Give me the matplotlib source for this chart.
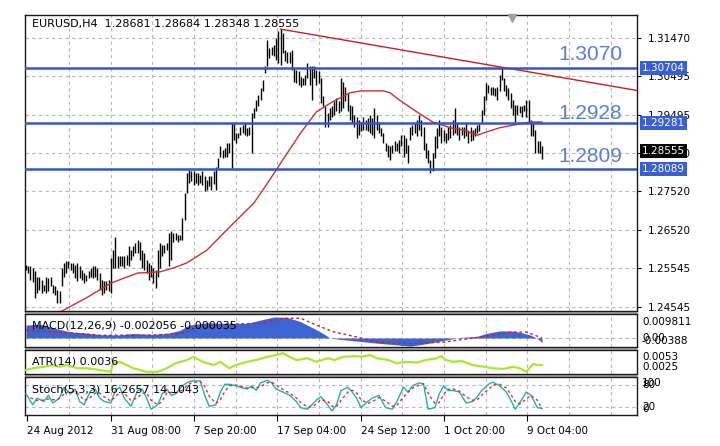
import matplotlib
matplotlib.use("Agg")
import matplotlib.pyplot as plt
from matplotlib.patches import Rectangle

plt.rcParams['font.family'] = ['DejaVu Sans']

# ---------------- data ----------------
symbol_info = "EURUSD,H4  1.28681 1.28684 1.28348 1.28555"
macd_info = "MACD(12,26,9) -0.002056 -0.000035"
atr_info = "ATR(14) 0.0036"
stoch_info = "Stoch(5,3,3) 16.2657 14.1043"

bar_high = [
    1.2563, 1.2559, 1.2559, 1.2555, 1.2546, 1.2533, 1.2533, 1.2525, 1.2512, 1.2533,
    1.2529, 1.2533, 1.2512, 1.2508, 1.2499, 1.2495, 1.2555, 1.2568, 1.2572, 1.2572,
    1.2568, 1.2568, 1.2563, 1.2568, 1.2560, 1.2550, 1.2542, 1.2538, 1.2546, 1.2555,
    1.2559, 1.2559, 1.2555, 1.2542, 1.2525, 1.2521, 1.2521, 1.2525, 1.2581, 1.2602,
    1.2636, 1.2585, 1.2585, 1.2585, 1.2585, 1.2589, 1.2611, 1.2602, 1.2611, 1.2619,
    1.2628, 1.2623, 1.2602, 1.2593, 1.2576, 1.2568, 1.2563, 1.2555, 1.2550, 1.2602,
    1.2619, 1.2615, 1.2615, 1.2619, 1.2645, 1.2649, 1.2645, 1.2645, 1.2641, 1.2641,
    1.2684, 1.2748, 1.2799, 1.2808, 1.2804, 1.2804, 1.2799, 1.2799, 1.2795, 1.2804,
    1.2791, 1.2782, 1.2791, 1.2791, 1.2805, 1.2816, 1.2838, 1.2868, 1.2859, 1.2864,
    1.2877, 1.2877, 1.2928, 1.2928, 1.2902, 1.2902, 1.2919, 1.2924, 1.2928, 1.2915,
    1.2919, 1.2954, 1.2967, 1.2988, 1.3001, 1.3018, 1.3040, 1.3074, 1.3143,
    1.3121, 1.3125, 1.3130, 1.3147, 1.3164, 1.3170, 1.3160, 1.3117, 1.3112, 1.3112,
    1.3117, 1.3070, 1.3065, 1.3061, 1.3048, 1.3044, 1.3052, 1.3082, 1.3074, 1.3074,
    1.3074, 1.3065, 1.3061, 1.3044, 1.2997, 1.2971, 1.2954, 1.2967, 1.2971, 1.2984,
    1.2992, 1.2984, 1.3044, 1.3035, 1.3022, 1.3005, 1.2975, 1.2971, 1.2949, 1.2945,
    1.2937, 1.2932, 1.2945, 1.2937, 1.2941, 1.2949, 1.2941, 1.2967, 1.2949, 1.2932,
    1.2915, 1.2902, 1.2877, 1.2872, 1.2868, 1.2872, 1.2881, 1.2877, 1.2885, 1.2898,
    1.2898, 1.2889, 1.2872, 1.2919, 1.2924, 1.2928, 1.2937, 1.2949, 1.2937, 1.2919,
    1.2877, 1.2859, 1.2834, 1.2851, 1.2894, 1.2915, 1.2937, 1.2919, 1.2911, 1.2902,
    1.2919, 1.2924, 1.2937, 1.2967, 1.2928, 1.2919, 1.2919, 1.2919, 1.2928, 1.2911,
    1.2919, 1.2911, 1.2915, 1.2924, 1.2928, 1.2962, 1.2997, 1.3031, 1.3027, 1.3022,
    1.3022, 1.3018, 1.3022, 1.3052, 1.3072, 1.3044, 1.3027, 1.3018, 1.3005, 1.2988,
    1.2975, 1.2975, 1.2971, 1.2971, 1.2975, 1.2988, 1.2988, 1.2937, 1.2932, 1.2911,
    1.2881, 1.2881, 1.28684,
]
bar_low = [
    1.2550, 1.2542, 1.2525, 1.2520, 1.2478, 1.2490, 1.2499, 1.2490, 1.2495, 1.2490,
    1.2495, 1.2508, 1.2490, 1.2486, 1.2465, 1.2465, 1.2508, 1.2533, 1.2542, 1.2555,
    1.2550, 1.2542, 1.2529, 1.2521, 1.2530, 1.2525, 1.2516, 1.2521, 1.2529, 1.2533,
    1.2529, 1.2533, 1.2525, 1.2499, 1.2486, 1.2490, 1.2499, 1.2495, 1.2490, 1.2555,
    1.2555, 1.2555, 1.2559, 1.2559, 1.2555, 1.2563, 1.2559, 1.2576, 1.2585, 1.2593,
    1.2593, 1.2576, 1.2555, 1.2550, 1.2542, 1.2525, 1.2533, 1.2516, 1.2503, 1.2533,
    1.2555, 1.2585, 1.2593, 1.2602, 1.2559, 1.2576, 1.2623, 1.2628, 1.2623, 1.2628,
    1.2628, 1.2679, 1.2748, 1.2774, 1.2778, 1.2769, 1.2774, 1.2769, 1.2774, 1.2769,
    1.2752, 1.2756, 1.2765, 1.2756, 1.2770, 1.2756, 1.2812, 1.2842, 1.2838, 1.2842,
    1.2842, 1.2851, 1.2812, 1.2885, 1.2877, 1.2889, 1.2898, 1.2902, 1.2898, 1.2894,
    1.2898, 1.2851, 1.2941, 1.2958, 1.2971, 1.2988, 1.3010, 1.3057, 1.3074,
    1.3095, 1.3104, 1.3100, 1.3091, 1.3082, 1.3078, 1.3108, 1.3087, 1.3082, 1.3082,
    1.3065, 1.3035, 1.3031, 1.3027, 1.3022, 1.3027, 1.3027, 1.3044, 1.3027, 1.2988,
    1.3044, 1.3027, 1.3031, 1.2979, 1.2971, 1.2919, 1.2919, 1.2937, 1.2945, 1.2949,
    1.2958, 1.2954, 1.2958, 1.2967, 1.2984, 1.2958, 1.2937, 1.2928, 1.2919, 1.2889,
    1.2898, 1.2907, 1.2911, 1.2911, 1.2907, 1.2902, 1.2898, 1.2889, 1.2911, 1.2902,
    1.2894, 1.2877, 1.2855, 1.2842, 1.2834, 1.2851, 1.2855, 1.2855, 1.2851, 1.2868,
    1.2842, 1.2851, 1.2825, 1.2885, 1.2898, 1.2902, 1.2894, 1.2911, 1.2894, 1.2859,
    1.2838, 1.2825, 1.2799, 1.2804, 1.2838, 1.2864, 1.2894, 1.2877, 1.2881, 1.2877,
    1.2885, 1.2889, 1.2898, 1.2902, 1.2898, 1.2885, 1.2898, 1.2889, 1.2894, 1.2877,
    1.2881, 1.2885, 1.2894, 1.2902, 1.2907, 1.2932, 1.2949, 1.2988, 1.3005, 1.3001,
    1.3001, 1.2997, 1.2988, 1.3010, 1.3040, 1.3010, 1.2997, 1.2988, 1.2967, 1.2949,
    1.2932, 1.2949, 1.2954, 1.2945, 1.2958, 1.2945, 1.2928, 1.2894, 1.2894, 1.2851,
    1.2851, 1.2851, 1.28348,
]
last_close = 1.28555

ma_idx = [0, 17, 27, 38, 50, 60, 66, 72, 81, 93, 102, 109, 114, 123, 130, 137, 145,
          150, 160, 163, 167, 175, 182, 190, 196, 202, 205, 212, 221, 226, 231]
ma_val = [1.2400, 1.2447, 1.2478, 1.2516, 1.2542, 1.2545, 1.2555, 1.2568, 1.2601,
          1.2671, 1.2722, 1.2781, 1.2825, 1.2903, 1.2957, 1.2982, 1.3006, 1.3011,
          1.3011, 1.3006, 1.2988, 1.2957, 1.2931, 1.2916, 1.2910, 1.2897, 1.2903,
          1.2916, 1.2926, 1.2931, 1.2931]

trend_idx = [114, 213]
trend_val = [1.3170, 1.3072]

levels = [1.30704, 1.29281, 1.28089]
level_labels = ["1.3070", "1.2928", "1.2809"]

price_ticks = [1.31470, 1.30495, 1.29495, 1.28520, 1.27520, 1.26520, 1.25545, 1.24545]
price_tick_labels = ["1.31470", "1.30495", "1.29495", "1.28520",
                     "1.27520", "1.26520", "1.25545", "1.24545"]

date_labels = ["24 Aug 2012", "31 Aug 08:00", "7 Sep 20:00", "17 Sep 04:00",
               "24 Sep 12:00", "1 Oct 20:00", "9 Oct 04:00"]

macd_idx = [0, 6, 11, 15, 20, 26, 33, 41, 48, 56, 63, 69, 73, 81, 90, 99, 105, 111,
            117, 123, 129, 133, 136, 142, 148, 157, 164, 172, 179, 187, 194, 202,
            206, 212, 217, 221, 226, 229, 231]
macd_val = [0.0060, 0.0065, 0.0052, 0.0040, 0.0028, 0.0024, 0.0016, 0.0014, 0.0021,
            0.0017, 0.0021, 0.0036, 0.0060, 0.0071, 0.0068, 0.0068, 0.0084, 0.0098,
            0.0096, 0.0076, 0.0044, 0.0021, 0.0000, -0.0008, -0.0014, -0.0024,
            -0.0030, -0.0038, -0.0027, -0.0011, 0.0002, 0.0008, 0.0021, 0.0033,
            0.0033, 0.0027, 0.0013, -0.0003, -0.0021]
macd_sig_idx = [0, 11, 20, 33, 56, 69, 76, 90, 105, 115, 123, 130, 138, 148, 157,
                172, 187, 202, 217, 224, 231]
macd_sig_val = [0.0036, 0.0028, 0.0024, 0.0013, 0.0013, 0.0021, 0.0044, 0.0065,
                0.0068, 0.0092, 0.0092, 0.0060, 0.0028, 0.0005, -0.0019, -0.0027,
                -0.0019, 0.0002, 0.0028, 0.0028, 0.0000]
macd_max, macd_min = 0.009811, -0.00388

atr_idx = [0, 3, 8, 12, 15, 18, 23, 27, 33, 38, 39, 42, 48, 54, 59, 63, 67, 72, 75,
           79, 84, 87, 91, 94, 99, 103, 108, 112, 115, 118, 121, 126, 130, 135, 138,
           142, 147, 150, 154, 157, 162, 166, 170, 175, 179, 184, 186, 188, 191, 195,
           200, 205, 209, 214, 218, 221, 224, 227, 229, 231]
atr_val = [0.00285, 0.0031, 0.0033, 0.00355, 0.0033, 0.00355, 0.0031, 0.0031,
           0.00285, 0.0026, 0.0038, 0.0040, 0.0031, 0.0026, 0.0026, 0.0031, 0.0038,
           0.00425, 0.0047, 0.0040, 0.00355, 0.0040, 0.0031, 0.00355, 0.0040,
           0.00425, 0.0047, 0.00495, 0.0052, 0.0047, 0.00425, 0.0045, 0.0040,
           0.0045, 0.00425, 0.0047, 0.0048, 0.0047, 0.00495, 0.0045, 0.00425,
           0.0038, 0.0040, 0.0039, 0.00425, 0.0045, 0.0048, 0.00425, 0.0040,
           0.0041, 0.00355, 0.0033, 0.0031, 0.0030, 0.0033, 0.0031, 0.0026,
           0.0037, 0.00355, 0.00355]
atr_max, atr_min = 0.0053, 0.0025

stoch_idx = [0, 3, 5, 8, 10, 12, 15, 17, 20, 22, 24, 26, 29, 31, 33, 35, 38, 40, 42,
             44, 47, 50, 52, 54, 56, 59, 61, 63, 65, 67, 70, 72, 74, 78, 80, 82, 85,
             87, 89, 91, 94, 96, 99, 101, 103, 105, 108, 110, 112, 115, 118, 121, 123,
             126, 128, 130, 132, 135, 137, 139, 141, 144, 146, 148, 150, 153, 155,
             158, 161, 164, 166, 169, 171, 173, 176, 178, 180, 183, 185, 187, 189,
             191, 194, 197, 200, 202, 204, 207, 209, 212, 215, 217, 219, 221, 224,
             226, 229, 231]
stoch_main = [56, 26, 44, 35, 52, 31, 44, 74, 56, 69, 35, 26, 65, 69, 44, 35, 31, 65,
              74, 44, 22, 65, 69, 44, 14, 26, 56, 69, 52, 56, 78, 86, 91, 91, 52, 22,
              26, 61, 82, 82, 78, 74, 69, 78, 65, 86, 93, 86, 69, 61, 52, 35, 18, 14,
              26, 39, 48, 26, 9, 26, 65, 74, 61, 44, 18, 35, 44, 52, 18, 14, 35, 74,
              61, 78, 86, 82, 14, 18, 56, 78, 65, 65, 61, 31, 35, 48, 65, 82, 88, 78,
              61, 39, 14, 31, 61, 52, 18, 16.27]
stoch_sig_idx = [2, 5, 7, 10, 12, 14, 17, 19, 22, 24, 26, 28, 31, 33, 35, 38, 40, 42,
                 44, 47, 50, 52, 54, 56, 59, 61, 63, 65, 67, 70, 72, 74, 78, 80, 82,
                 85, 87, 89, 91, 94, 96, 99, 101, 103, 105, 108, 110, 112, 115, 118,
                 121, 123, 126, 128, 130, 132, 135, 137, 139, 141, 144, 146, 148, 150,
                 153, 155, 158, 161, 164, 166, 169, 171, 173, 176, 178, 180, 183, 185,
                 187, 189, 191, 194, 197, 200, 202, 204, 207, 209, 212, 215, 217, 219,
                 221, 224, 226, 229, 231]
stoch_sig = [45, 38, 38, 42, 40, 40, 55, 62, 62, 52, 38, 42, 58, 58, 48, 36, 48, 60,
             58, 38, 45, 58, 58, 38, 26, 36, 58, 60, 58, 66, 78, 86, 90, 76, 50, 30,
             40, 62, 78, 80, 76, 72, 73, 72, 76, 86, 88, 80, 68, 58, 45, 32, 20, 20,
             28, 40, 36, 22, 20, 38, 60, 66, 58, 40, 30, 34, 46, 36, 22, 24, 48, 60,
             72, 80, 84, 58, 30, 32, 55, 68, 70, 63, 48, 38, 40, 52, 68, 80, 82, 72,
             55, 35, 28, 42, 52, 38, 14.10]

# ---------------- layout (pixels) ----------------
W, H = 720, 446
LEFT, RIGHT = 25, 637
FIRST_BAR_PX = 26
BAR_PX = (542 - FIRST_BAR_PX) / (len(bar_high) - 1)
GRID0_PX, GRID_PX = 27.3, 41.67

fig = plt.figure(figsize=(W / 100, H / 100), dpi=100)
fig.patch.set_facecolor('white')


def px_axes(top, bottom):
    return fig.add_axes([LEFT / W, (H - bottom) / H, (RIGHT - LEFT) / W, (bottom - top) / H])


ax = px_axes(15, 311)
ax_macd = px_axes(314, 347)
ax_atr = px_axes(350, 374)
ax_st = px_axes(377, 415)
panels = [ax, ax_macd, ax_atr, ax_st]

# gaps between panels
for top, bot in [(311, 314), (347, 350), (374, 377)]:
    fig.add_artist(Rectangle((LEFT / W, (H - bot) / H), (RIGHT - LEFT) / W, (bot - top) / H,
                             transform=fig.transFigure, fc='#a8a8a8', ec='none', zorder=0))

xmin = (LEFT - FIRST_BAR_PX) / BAR_PX
xmax = (RIGHT - FIRST_BAR_PX) / BAR_PX
grid_pos = [(GRID0_PX - FIRST_BAR_PX + GRID_PX * k) / BAR_PX for k in range(15)]
date_pos = grid_pos[0:14:2]

grid_kw = dict(color='#b8b8b8', lw=0.8, ls=(0, (3, 3)), zorder=0)

for a in panels:
    a.set_xlim(xmin, xmax)
    a.set_facecolor('white')
    for s in a.spines.values():
        s.set_color('#1a1a1a')
        s.set_linewidth(1.0)
    a.tick_params(axis='both', which='both', length=0, labelbottom=False, labelleft=False)
    for g in grid_pos[1:]:
        a.axvline(g, **grid_kw)

# ---------------- main price panel ----------------
ax.set_ylim(1.24442, 1.32064)
for p in price_ticks:
    ax.axhline(p, **grid_kw)
ax.yaxis.tick_right()
ax.set_yticks(price_ticks)
ax.set_yticklabels(price_tick_labels)
ax.tick_params(axis='y', which='both', right=True, labelright=True, direction='out',
               length=3, width=0.8, pad=5, labelsize=7.5, colors='#000000')

xs = list(range(len(bar_high)))
ax.vlines(xs, bar_low, bar_high, color='black', lw=1.0, zorder=3)

ax.plot(ma_idx, ma_val, color='#c83232', lw=1.0, zorder=4)

slope = (trend_val[1] - trend_val[0]) / (trend_idx[1] - trend_idx[0])
ax.plot([trend_idx[0], xmax], [trend_val[0], trend_val[0] + slope * (xmax - trend_idx[0])],
        color='#c82020', lw=1.0, zorder=4)

for lv, lab, off in zip(levels, level_labels, [13, 10, 12.5]):
    ax.axhline(lv, color='#3556c4', lw=1.8, zorder=5)
    ax.annotate(lab, xy=(1, lv), xycoords=('axes fraction', 'data'), xytext=(-15, off),
                textcoords='offset pixels', ha='right', va='center', fontsize=15,
                family='Liberation Sans', color='#5b7dd6', zorder=6)
    ax.annotate(f"{lv:.5f}", xy=(1, lv), xycoords=('axes fraction', 'data'), xytext=(5, 0),
                textcoords='offset pixels', ha='left', va='center', fontsize=7.5,
                color='white', annotation_clip=False, zorder=10,
                bbox=dict(boxstyle='square,pad=0.18', fc='#3a5fd0', ec='none'))

ax.annotate(f"{last_close:.5f}", xy=(1, last_close), xycoords=('axes fraction', 'data'),
            xytext=(5, 0), textcoords='offset pixels', ha='left', va='center', fontsize=7.5,
            color='white', annotation_clip=False, zorder=10,
            bbox=dict(boxstyle='square,pad=0.18', fc='black', ec='none'))

ax.annotate(symbol_info, xy=(0, 1), xycoords='axes fraction', xytext=(7, -9),
            textcoords='offset pixels', ha='left', va='center', fontsize=8, zorder=10)

ax.plot([(512 - LEFT) / (RIGHT - LEFT)], [1 - 3 / 296], marker='v', ms=6, color='#a0a0a0',
        transform=ax.transAxes, clip_on=False, zorder=10)


def side_label(a, txt, val, va):
    a.annotate(txt, xy=(1, val), xycoords=('axes fraction', 'data'), xytext=(5, 0),
               textcoords='offset pixels', ha='left', va=va, fontsize=7.5,
               annotation_clip=False)


def panel_title(a, txt):
    a.annotate(txt, xy=(0, 1), xycoords='axes fraction', xytext=(7, -12),
               textcoords='offset pixels', ha='left', va='center', fontsize=8, zorder=10)


# ---------------- MACD ----------------
ax_macd.set_ylim(-0.0042, 0.0112)
ax_macd.axhline(0, **grid_kw)
ax_macd.fill_between(macd_idx, 0, macd_val, color='#3c64d2', lw=0, zorder=2)
ax_macd.plot(macd_sig_idx, macd_sig_val, color='#d42020', lw=1.0, ls=(0, (2, 2)), zorder=3)
panel_title(ax_macd, macd_info)
side_label(ax_macd, f"{macd_max:.6f}", macd_max, 'top')
side_label(ax_macd, "0.00", 0.0, 'center')
side_label(ax_macd, f"{macd_min:.5f}", macd_min, 'bottom')

# ---------------- ATR ----------------
ax_atr.set_ylim(0.00229, 0.00565)
ax_atr.plot(atr_idx, atr_val, color='#a8e832', lw=1.6, zorder=3)
panel_title(ax_atr, atr_info)
side_label(ax_atr, f"{atr_max:.4f}", atr_max, 'top')
side_label(ax_atr, f"{atr_min:.4f}", atr_min, 'bottom')

# ---------------- Stochastic ----------------
ax_st.set_ylim(-2, 102)
for lv in (80, 20):
    ax_st.axhline(lv, **grid_kw)
ax_st.plot(stoch_idx, stoch_main, color='#20b2aa', lw=1.0, zorder=3)
ax_st.plot(stoch_sig_idx, stoch_sig, color='#e03030', lw=1.0, ls=(0, (2, 2)), zorder=3)
panel_title(ax_st, stoch_info)
side_label(ax_st, "100", 100, 'top')
side_label(ax_st, "80", 80, 'center')
side_label(ax_st, "20", 20, 'center')
side_label(ax_st, "0", 0, 'bottom')

ax_st.set_xticks(date_pos)
ax_st.set_xticklabels(date_labels)
ax_st.tick_params(axis='x', which='both', bottom=True, labelbottom=True, direction='out',
                  length=4, width=0.8, pad=4, labelsize=7.5)
for lbl in ax_st.get_xticklabels():
    lbl.set_horizontalalignment('left')

fig.savefig("out.png", dpi=100, facecolor='white')
